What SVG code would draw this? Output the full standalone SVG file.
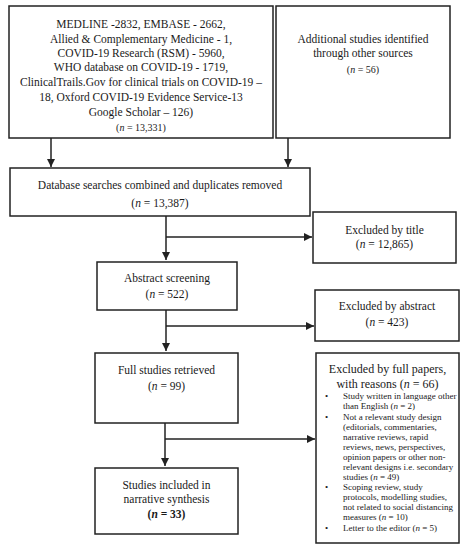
<svg xmlns="http://www.w3.org/2000/svg" width="465" height="550" viewBox="0 0 465 550">
<defs>
<style>
.box{fill:#fff;stroke:#222;stroke-width:1.5}
.t{font-family:"Liberation Serif","Times New Roman",serif;font-size:11.5px;fill:#1a1a1a;text-anchor:middle}
.s{font-family:"Liberation Serif","Times New Roman",serif;font-size:9px;fill:#1a1a1a}
.i{font-style:italic}
.ln{stroke:#222;stroke-width:1.5;fill:none}
</style>
<marker id="ah" viewBox="0 0 8 8" refX="8" refY="4" markerWidth="8" markerHeight="8" markerUnits="userSpaceOnUse" orient="auto">
<path d="M0,0 L8,4 L0,8 Z" fill="#222"/>
</marker>
</defs>
<rect width="465" height="550" fill="#fff"/>
<g id="connectors">
<line class="ln" x1="51" y1="138" x2="51" y2="167" marker-end="url(#ah)"/>
<line class="ln" x1="288" y1="138" x2="288" y2="167" marker-end="url(#ah)"/>
<line class="ln" x1="166" y1="216" x2="166" y2="260" marker-end="url(#ah)"/>
<line class="ln" x1="166" y1="237" x2="312" y2="237" marker-end="url(#ah)"/>
<line class="ln" x1="166" y1="310" x2="166" y2="351" marker-end="url(#ah)"/>
<line class="ln" x1="166" y1="326" x2="314" y2="326" marker-end="url(#ah)"/>
<line class="ln" x1="165" y1="423" x2="165" y2="466" marker-end="url(#ah)"/>
<line class="ln" x1="165" y1="439" x2="315" y2="439" marker-end="url(#ah)"/>
</g>
<g id="databases">
<rect class="box" x="9" y="6" width="264" height="132"/>
<text class="t" x="141" y="28">MEDLINE -2832, EMBASE - 2662,</text>
<text class="t" x="141" y="42.5">Allied &amp; Complementary Medicine - 1,</text>
<text class="t" x="141" y="56.5">COVID-19 Research (RSM) - 5960,</text>
<text class="t" x="141" y="71">WHO database on COVID-19 - 1719,</text>
<text class="t" x="141" y="86">ClinicalTrails.Gov for clinical trials on COVID-19 –</text>
<text class="t" x="141" y="101">18, Oxford COVID-19 Evidence Service-13</text>
<text class="t" x="141" y="116">Google Scholar – 126)</text>
<text class="t" x="141" y="131" style="font-size:10px">(<tspan class="i">n</tspan> = 13,331)</text>
</g>
<g id="additional">
<rect class="box" x="276" y="6" width="174" height="132"/>
<text class="t" x="363" y="43">Additional studies identified</text>
<text class="t" x="363" y="57">through other sources</text>
<text class="t" x="363" y="73" style="font-size:10px">(<tspan class="i">n</tspan> = 56)</text>
</g>
<g id="combined">
<rect class="box" x="10" y="168" width="300" height="48"/>
<text class="t" x="160" y="189">Database searches combined and duplicates removed</text>
<text class="t" x="160" y="207">(<tspan class="i">n</tspan> = 13,387)</text>
</g>
<g id="excl-title">
<rect class="box" x="313" y="212" width="143" height="51"/>
<text class="t" x="384.5" y="234">Excluded by title</text>
<text class="t" x="384.5" y="248">(<tspan class="i">n</tspan> = 12,865)</text>
</g>
<g id="abstract">
<rect class="box" x="97" y="262" width="140" height="48"/>
<text class="t" x="167" y="282">Abstract screening</text>
<text class="t" x="167" y="298">(<tspan class="i">n</tspan> = 522)</text>
</g>
<g id="excl-abstract">
<rect class="box" x="315" y="290" width="144" height="51"/>
<text class="t" x="387" y="310">Excluded by abstract</text>
<text class="t" x="387" y="326">(<tspan class="i">n</tspan> = 423)</text>
</g>
<g id="fulltext">
<rect class="box" x="95" y="353" width="143" height="70"/>
<text class="t" x="166.5" y="374">Full studies retrieved</text>
<text class="t" x="166.5" y="390">(<tspan class="i">n</tspan> = 99)</text>
</g>
<g id="included">
<rect class="box" x="95" y="468" width="143" height="66"/>
<text class="t" x="166.5" y="489">Studies included in</text>
<text class="t" x="166.5" y="503">narrative synthesis</text>
<text class="t" x="166.5" y="518" font-weight="bold">(<tspan class="i">n</tspan> = 33)</text>
</g>
<g id="excl-full">
<rect class="box" x="316" y="353" width="143" height="190"/>
<text class="t" x="387.5" y="373" style="font-size:12px">Excluded by full papers,</text>
<text class="t" x="387.5" y="388" style="font-size:12px">with reasons (<tspan class="i">n</tspan> = 66)</text>
<g class="s">
<text x="325" y="399">•</text>
<text x="343" y="399">Study written in language other</text>
<text x="343" y="409">than English (<tspan class="i">n</tspan> = 2)</text>
<text x="325" y="420">•</text>
<text x="343" y="420">Not a relevant study design</text>
<text x="343" y="430">(editorials, commentaries,</text>
<text x="343" y="440">narrative reviews, rapid</text>
<text x="343" y="450">reviews, news, perspectives,</text>
<text x="343" y="460">opinion papers or other non-</text>
<text x="343" y="470">relevant designs i.e. secondary</text>
<text x="343" y="480">studies (<tspan class="i">n</tspan> = 49)</text>
<text x="325" y="490">•</text>
<text x="343" y="490">Scoping review, study</text>
<text x="343" y="500">protocols, modelling studies,</text>
<text x="343" y="510">not related to social distancing</text>
<text x="343" y="520">measures (<tspan class="i">n</tspan> = 10)</text>
<text x="325" y="531">•</text>
<text x="343" y="531">Letter to the editor (<tspan class="i">n</tspan> = 5)</text>
</g>
</g>
</svg>
